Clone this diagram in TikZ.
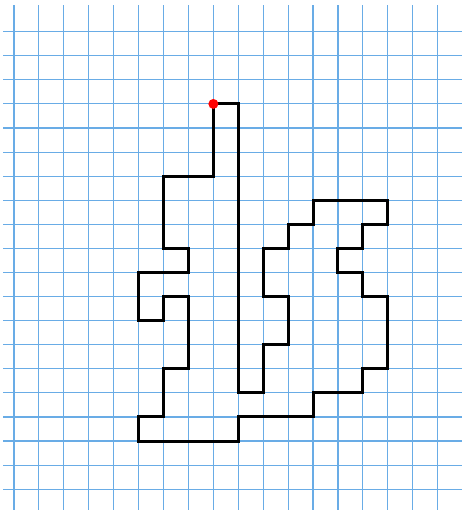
\documentclass[tikz,border=0pt]{standalone}
\usepackage{tikz}
\definecolor{gridblue}{RGB}{105,172,230}

\begin{document}
\begin{tikzpicture}[
    x=24.92pt, y=-24.08pt,
    gridline/.style={draw=gridblue, line width=1.1pt},
    outline/.style={draw=black, line width=3pt, line join=miter},
    startdot/.style={circle, fill=red, inner sep=0pt, minimum size=10pt}
]
    % page and squared paper
    \fill[white] (-0.562,-0.316) rectangle (17.978,20.864);
    \useasboundingbox (-0.562,-0.316) rectangle (17.978,20.864);
    \foreach \j in {1,...,20}
        \draw[gridline] (-0.44,\j) -- (17.978,\j);
    \foreach \i in {0,...,17}
        \draw[gridline] (\i,-0.108) -- (\i,20.864);

    % closed figure along the grid
    \draw[outline] (8,4) -- (9,4) -- (9,16) -- (10,16) -- (10,14) -- (11,14)
        -- (11,12) -- (10,12) -- (10,10) -- (11,10) -- (11,9) -- (12,9)
        -- (12,8) -- (15,8) -- (15,9) -- (14,9) -- (14,10) -- (13,10)
        -- (13,11) -- (14,11) -- (14,12) -- (15,12) -- (15,15) -- (14,15)
        -- (14,16) -- (12,16) -- (12,17) -- (9,17) -- (9,18) -- (5,18)
        -- (5,17) -- (6,17) -- (6,15) -- (7,15) -- (7,12) -- (6,12)
        -- (6,13) -- (5,13) -- (5,11) -- (7,11) -- (7,10) -- (6,10)
        -- (6,7) -- (8,7) -- cycle;

    \node[startdot] (start) at (8,4) {};
\end{tikzpicture}
\end{document}
